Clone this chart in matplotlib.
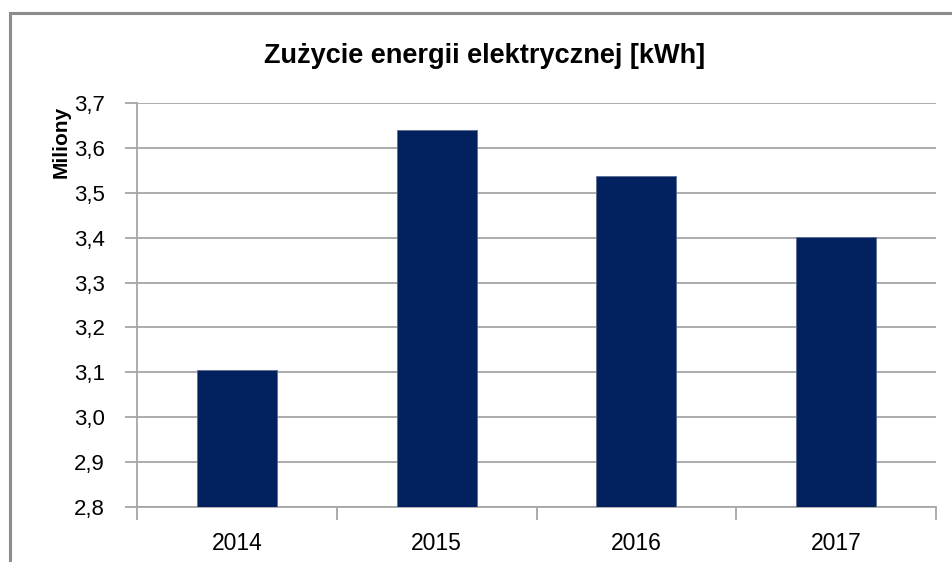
import matplotlib.pyplot as plt
from matplotlib.patches import Rectangle
from matplotlib.ticker import FuncFormatter

years = ['2014', '2015', '2016', '2017']
values = [3.105, 3.640, 3.537, 3.402]   # miliony kWh
yticks = [2.8, 2.9, 3.0, 3.1, 3.2, 3.3, 3.4, 3.5, 3.6, 3.7]

plt.rcParams['font.family'] = ['Liberation Sans', 'DejaVu Sans']

W, H = 952, 562
fig = plt.figure(figsize=(W / 100, H / 100), dpi=100)
ax = fig.add_axes([137 / W, 1 - 507 / H, (936 - 137) / W, (507 - 103) / H])

x = list(range(len(years)))
ax.bar(x, values, width=0.4, color='#03215F', edgecolor='#5a6d96', linewidth=0.6, zorder=3)

ax.set_xlim(-0.5, len(years) - 0.5)
ax.set_ylim(2.8, 3.7)
ax.set_yticks(yticks)
ax.yaxis.set_major_formatter(FuncFormatter(lambda v, p: f'{v:.1f}'.replace('.', ',')))
ax.set_xticks(x)
ax.set_xticklabels(years)
ax.set_xticks([i - 0.5 for i in range(len(years) + 1)], minor=True)

ax.grid(axis='y', color='#a6a6a6', linewidth=1.3, zorder=0)
for s in ['top', 'right']:
    ax.spines[s].set_visible(False)
for s in ['left', 'bottom']:
    ax.spines[s].set_color('#a6a6a6')
    ax.spines[s].set_linewidth(1.3)

ax.tick_params(axis='y', length=9, width=1.3, color='#a6a6a6', labelsize=16, pad=14)
ax.tick_params(axis='x', which='major', length=0, labelsize=16.5, pad=18)
ax.tick_params(axis='x', which='minor', length=9, width=1.3, color='#a6a6a6')

fig.text(485 / W, 1 - 63 / H, 'Zużycie energii elektrycznej [kWh]', ha='center', va='baseline',
         fontsize=19.5, fontweight='bold')
fig.text(61 / W, 1 - 142 / H, 'Miliony', ha='center', va='center', rotation=90,
         fontsize=15, fontweight='bold')

fig.patches.append(Rectangle((10 / W, -0.1), 1.2, 1.1 - 13 / H, transform=fig.transFigure,
                             fill=False, edgecolor='#8c8c8c', linewidth=2.2))

fig.savefig('out.png', dpi=100)
